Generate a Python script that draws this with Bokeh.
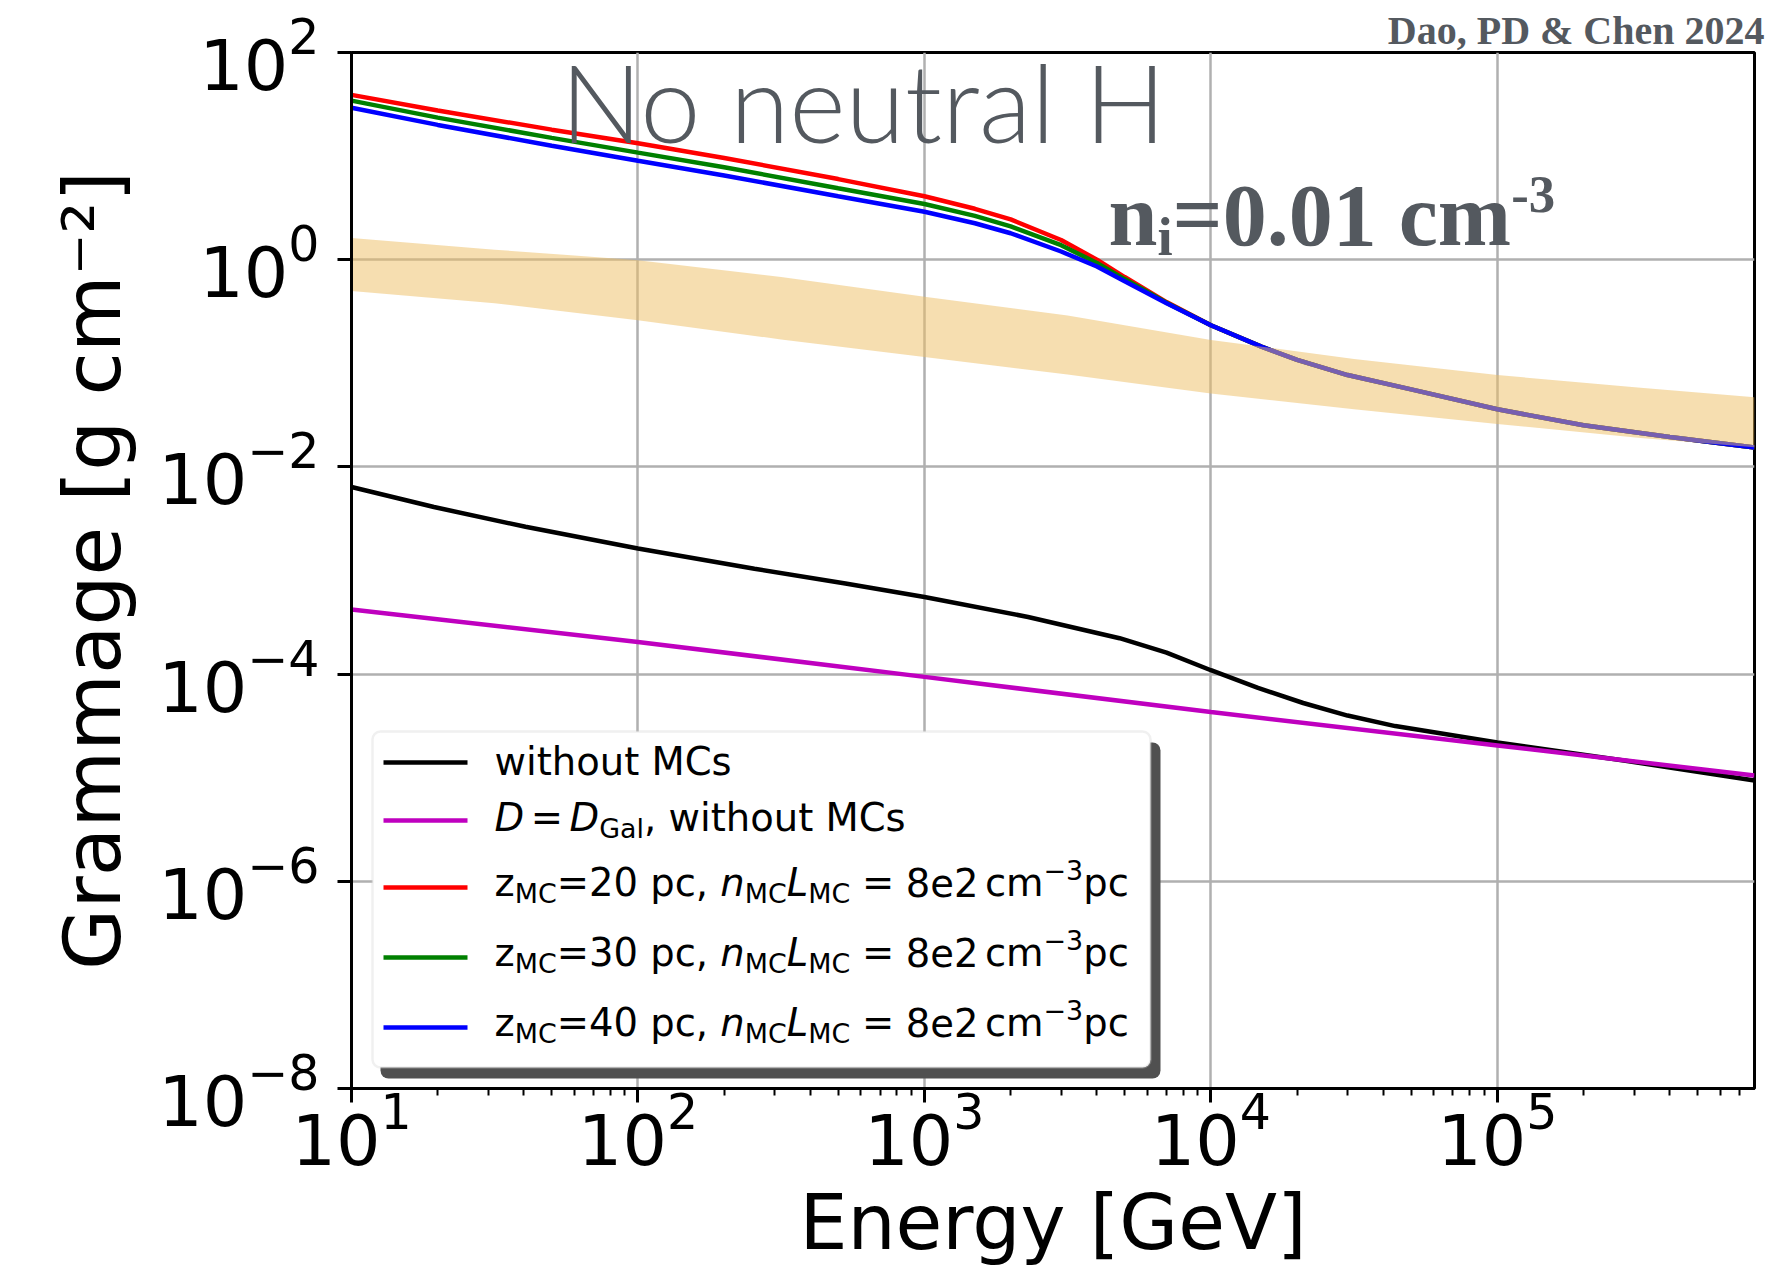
import math
from bokeh.plotting import figure
from bokeh.models import FixedTicker, Label, BoxAnnotation, Range1d, Title
from bokeh.embed import file_html
from bokeh.resources import INLINE

# ---------------- data ----------------
energy_mc = [10, 20, 50, 100, 200, 500, 1e3, 1.5e3, 2e3, 3e3, 4e3, 5e3, 7e3,
             1e4, 1.5e4, 2e4, 3e4, 5e4, 1e5, 2e5, 4e5, 7.9e5]
gram_z20 = [39, 27.5, 18.0, 13.3, 9.6, 6.0, 4.1, 3.1, 2.45, 1.55, 1.0, 0.68, 0.39,
            0.233, 0.145, 0.108, 0.077, 0.056, 0.036, 0.0252, 0.0194, 0.0154]
gram_z30 = [34.3, 23.5, 15.0, 10.8, 7.8, 4.9, 3.45, 2.65, 2.1, 1.38, 0.93, 0.65, 0.385,
            0.233, 0.145, 0.108, 0.077, 0.056, 0.036, 0.0252, 0.0194, 0.0154]
gram_z40 = [29.3, 20.0, 12.6, 9.0, 6.5, 4.1, 2.9, 2.25, 1.8, 1.2, 0.86, 0.62, 0.38,
            0.233, 0.145, 0.108, 0.077, 0.056, 0.036, 0.0252, 0.0194, 0.0154]

energy_nomc = [10, 19.4, 40.5, 100, 255, 530, 1e3, 2.3e3, 4.8e3, 7e3, 1e4, 1.46e4,
               2.1e4, 3e4, 4.4e4, 1e5, 2.8e5, 7.9e5]
gram_nomc = [6.4e-3, 4.1e-3, 2.64e-3, 1.63e-3, 1.04e-3, 7.5e-4, 5.55e-4, 3.56e-4,
             2.22e-4, 1.61e-4, 1.09e-4, 7.35e-5, 5.26e-5, 3.98e-5, 3.15e-5, 2.19e-5,
             1.46e-5, 9.4e-6]

energy_gal = [10, 100, 1e3, 1e4, 1e5, 7.9e5]
gram_gal = [4.2e-4, 2.04e-4, 9.4e-5, 4.3e-5, 2.05e-5, 1.05e-5]

energy_band = [10, 31.6, 100, 316, 1e3, 3.16e3, 1e4, 3.16e4, 1e5, 3.16e5, 7.9e5]
band_high = [1.62, 1.25, 0.99, 0.68, 0.44, 0.29, 0.168, 0.11, 0.077, 0.058, 0.047]
band_low = [0.50, 0.38, 0.26, 0.17, 0.115, 0.078, 0.051, 0.036, 0.026, 0.019, 0.0155]

x_major = [1e1, 1e2, 1e3, 1e4, 1e5]
y_major = [1e-8, 1e-6, 1e-4, 1e-2, 1e0, 1e2]

# ---------------- figure ----------------
W, H = 1777, 1270
FL, FT, FR, FB = 351, 52, 1754, 1088   # page px of the frame edges
p = figure(width=W, height=H, x_axis_type="log", y_axis_type="log",
           x_range=Range1d(10, 7.9e5), y_range=Range1d(1e-8, 1e2),
           output_backend="svg", toolbar_location=None, title=None,
           min_border_left=FL, min_border_right=W - FR, min_border_top=FT,
           min_border_bottom=H - FB)
p.background_fill_color = "white"
p.border_fill_color = "white"
p.outline_line_color = "black"
p.outline_line_width = 3

minor = [k * 10 ** d for d in range(1, 6) for k in range(2, 10) if k * 10 ** d <= 7.9e5]
p.xaxis.ticker = FixedTicker(ticks=x_major, minor_ticks=minor)
p.yaxis.ticker = FixedTicker(ticks=y_major, minor_ticks=[])
for ax in (p.xaxis, p.yaxis):
    ax.axis_line_width = 3
    ax.axis_line_color = "black"
    ax.major_tick_out = 14
    ax.major_tick_in = 0
    ax.major_tick_line_width = 3
    ax.minor_tick_out = 7
    ax.minor_tick_in = 0
    ax.minor_tick_line_width = 2
    ax.major_label_text_font = "DejaVu Sans"
    ax.major_label_text_font_size = "70px"
    ax.major_label_text_color = "black"
    ax.axis_label_text_font = "DejaVu Sans"
    ax.axis_label_text_font_style = "normal"
    ax.axis_label_text_color = "black"
p.xaxis.major_label_standoff = -13
p.yaxis.major_label_standoff = 18
p.xaxis.axis_label = "Energy [GeV]"
p.xaxis.axis_label_text_font_size = "76px"
p.xaxis.axis_label_standoff = 10
p.yaxis.axis_label = "Grammage [g cm\u207b\u00b2]"
p.yaxis.axis_label_text_font_size = "79px"
p.yaxis.axis_label_standoff = 16

p.xgrid.grid_line_color = "#b0b0b0"
p.ygrid.grid_line_color = "#b0b0b0"
p.xgrid.grid_line_width = 2.5
p.ygrid.grid_line_width = 2.5

p.add_layout(Title(text="Dao, PD & Chen 2024", align="right", text_font="Liberation Serif",
                   text_font_style="bold", text_font_size="40px", text_color="#54595f",
                   standoff=0, offset=-10), "above")

# ---------------- curves ----------------
lw = 4.5
p.line(energy_nomc, gram_nomc, line_color="black", line_width=lw)
p.line(energy_gal, gram_gal, line_color="#bf00bf", line_width=lw)
p.line(energy_mc, gram_z20, line_color="#ff0000", line_width=lw)
p.line(energy_mc, gram_z30, line_color="#008000", line_width=lw)
p.line(energy_mc, gram_z40, line_color="#0000ff", line_width=lw)
p.varea(x=energy_band, y1=band_low, y2=band_high, fill_color="#EDBD62", fill_alpha=0.5)


# ---------------- helpers for positioned text (frame-relative screen px) ----------------
def sx(px):
    return px - FL


def sy(py):
    return FB - py


BL = 0.38  # correction: rendered baseline sits this many em below the given y

DV = {' ': .318, ',': .318, '.': .318, '=': .838, '\u2212': .838, '-': .361,
      'C': .698, 'D': .770, 'G': .775, 'L': .557, 'M': .863, 'a': .613, 'c': .550,
      'e': .615, 'h': .634, 'i': .278, 'l': .278, 'm': .974, 'n': .634, 'o': .612,
      'p': .635, 's': .521, 't': .392, 'u': .634, 'w': .818, 'z': .525}
for d in "0123456789":
    DV[d] = .636
TB = {'n': .556, 'i': .278, '=': .570, '0': .5, '.': .25, '1': .5, ' ': .25,
      'c': .444, 'm': .833, '-': .333, '3': .5}


def runs(x0, y0, items, font, size, color, widths):
    """items: (text, style, scale, baseline shift in em, gap before in em)"""
    x = x0
    for text, style, scale, shift, gap in items:
        fs = size * scale
        x += gap * size
        lead = len(text) - len(text.lstrip(' '))
        x_draw = x + lead * widths[' '] * fs
        p.add_layout(Label(x=x_draw, y=y0 + shift * size + BL * fs,
                           x_units="screen", y_units="screen",
                           text=text.strip(' '), text_font=font,
                           text_font_size=f"{fs:.1f}px",
                           text_font_style=style, text_color=color,
                           text_baseline="alphabetic", text_align="left"))
        x += sum(widths.get(c, .6) for c in text) * fs


# ---------------- legend ----------------
p.add_layout(BoxAnnotation(left=29, right=809, top=346, bottom=10,
                           left_units="screen", right_units="screen",
                           top_units="screen", bottom_units="screen",
                           fill_color="#505050", fill_alpha=1.0, line_alpha=0,
                           border_radius=8))
p.add_layout(BoxAnnotation(left=21, right=799, top=357, bottom=21,
                           left_units="screen", right_units="screen",
                           top_units="screen", bottom_units="screen",
                           fill_color="white", fill_alpha=1.0, line_color="#cccccc",
                           line_width=2.5, border_radius=8))

leg_colors = ["black", "#bf00bf", "#ff0000", "#008000", "#0000ff"]
leg_line_y = [762, 820, 887, 957, 1027]
for c, yc in zip(leg_colors, leg_line_y):
    p.add_layout(BoxAnnotation(left=sx(383), right=sx(467), top=sy(yc) + 2.2,
                               bottom=sy(yc) - 2.2,
                               left_units="screen", right_units="screen",
                               top_units="screen", bottom_units="screen",
                               fill_color=c, fill_alpha=1.0, line_alpha=0))

LF = 38.5
SS = 0.7
SUB = -0.16
SUP = 0.44
leg_base = [776, 832, 897, 967, 1037]
x_text = sx(494)
runs(x_text, sy(leg_base[0]), [("without MCs", "normal", 1, 0, 0)],
     "DejaVu Sans", LF, "black", DV)
runs(x_text, sy(leg_base[1]), [("D", "italic", 1, 0, 0), ("=", "normal", 1, 0, 0.17),
                               ("D", "italic", 1, 0, 0.17), ("Gal", "normal", SS, SUB, 0),
                               (", without MCs", "normal", 1, 0, 0)],
     "DejaVu Sans", LF, "black", DV)
for zval, yb in zip(["20", "30", "40"], leg_base[2:]):
    runs(x_text, sy(yb), [("z", "normal", 1, 0, 0), ("MC", "normal", SS, SUB, 0),
                          (f"={zval} pc, ", "normal", 1, 0, 0), ("n", "italic", 1, 0, 0),
                          ("MC", "normal", SS, SUB, 0), ("L", "italic", 1, 0, 0),
                          ("MC", "normal", SS, SUB, 0), ("=", "normal", 1, 0, 0.3),
                          ("8e2", "normal", 1, 0, 0.3), ("cm", "normal", 1, 0, 0.17),
                          ("\u22123", "normal", SS, SUP, 0), ("pc", "normal", 1, 0, 0)],
         "DejaVu Sans", LF, "black", DV)

# ---------------- annotations ----------------
p.add_layout(Label(x=sx(560), y=sy(142) + BL * 108, x_units="screen", y_units="screen",
                   text="No neutral H", text_font="'Lato Light', Lato",
                   text_font_size="108px", text_color="#54595f",
                   text_baseline="alphabetic", text_align="left"))

runs(sx(1108), sy(248), [("n", "bold", 1, 0, 0), ("i", "bold", 0.62, -0.1, 0),
                         ("=0.01 cm", "bold", 1, 0, 0), ("-3", "bold", 0.6, 0.38, 0)],
     "Liberation Serif", 88, "#54595f", TB)

open("out.html", "w").write(file_html(p, INLINE))
